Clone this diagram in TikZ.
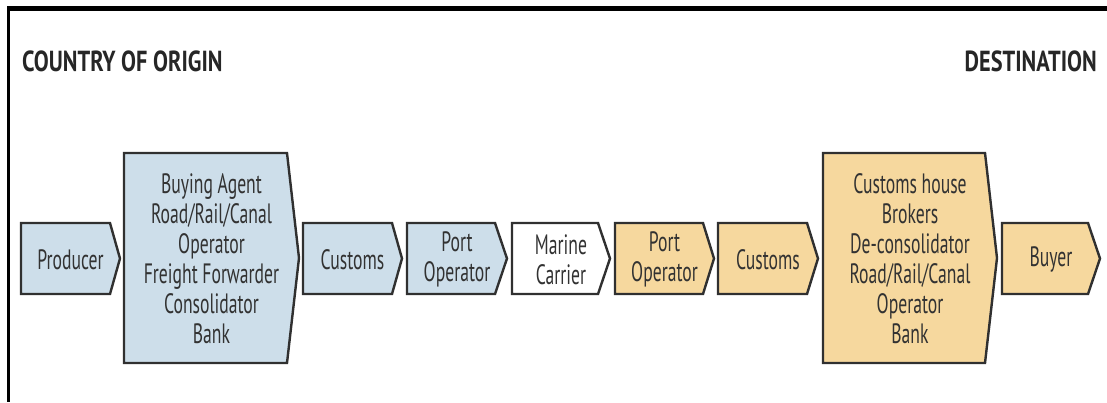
\documentclass[tikz,border=0pt]{standalone}
\usepackage{fontspec}
\setmainfont{PT Sans}
\newfontfamily\boxfont[FakeStretch=0.63]{PT Sans}
\newfontfamily\headfont[FakeStretch=0.77]{PT Sans}

\definecolor{originblue}{RGB}{205,222,234}
\definecolor{destsand}{RGB}{246,216,158}
\definecolor{outline}{RGB}{48,48,48}
\definecolor{ink}{RGB}{50,50,50}

\tikzset{
  stage/.style={draw=outline, line width=2.4pt, line join=miter},
  stagetext/.style={inner sep=0pt, align=center, text=ink,
    font=\boxfont\fontsize{28}{30}\selectfont},
  heading/.style={inner sep=0pt, text=black!85,
    font=\headfont\bfseries\fontsize{29}{30}\selectfont},
}

% #1 name, #2 left, #3 end of body, #4 tip, #5 top, #6 bottom, #7 fill, #8 text
\newcommand\stageshape[8]{%
  \path[stage, fill=#7] (#2,#5) -- (#3,#5) -- (#4,{(#5+#6)/2}) -- (#3,#6)
    -- (#2,#6) -- cycle;
  \node[stagetext] (#1) at ({(#2+#4)/2},{(#5+#6)/2+1}) {#8};
}

\begin{document}
\begin{tikzpicture}[x=1pt,y=-1pt]
\useasboundingbox (0,0) rectangle (1107,402);

% frame lines
\draw[line width=4.5pt, black] (7,8.5) -- (1107,8.5);
\draw[line width=3pt, black] (8.5,7) -- (8.5,402);

% headings
\node[heading, anchor=base west] (origin) at (22,71) {COUNTRY OF ORIGIN};
\node[heading, anchor=base east] (destination) at (1097,71) {DESTINATION};

% country of origin
\stageshape{producer}{21}{110}{120}{223}{294}{originblue}{Producer}
\stageshape{agents}{124}{287}{299}{153}{363}{originblue}{Buying Agent\\Road/Rail/Canal\\Operator\\Freight Forwarder\\Consolidator\\Bank}
\stageshape{customsout}{303}{392}{402}{223}{294}{originblue}{Customs}
\stageshape{portout}{407}{495}{507}{223}{294}{originblue}{Port\\Operator}

% in transit
\stageshape{carrier}{512}{598}{610}{223}{294}{white}{Marine\\Carrier}

% destination
\stageshape{portin}{615}{703}{714}{223}{294}{destsand}{Port\\Operator}
\stageshape{customsin}{718}{807}{818}{223}{294}{destsand}{Customs}
\stageshape{brokers}{823}{985}{997}{153}{363}{destsand}{Customs house\\Brokers\\De-consolidator\\Road/Rail/Canal\\Operator\\Bank}
\stageshape{buyer}{1002}{1088}{1100}{223}{294}{destsand}{Buyer}
\end{tikzpicture}
\end{document}
